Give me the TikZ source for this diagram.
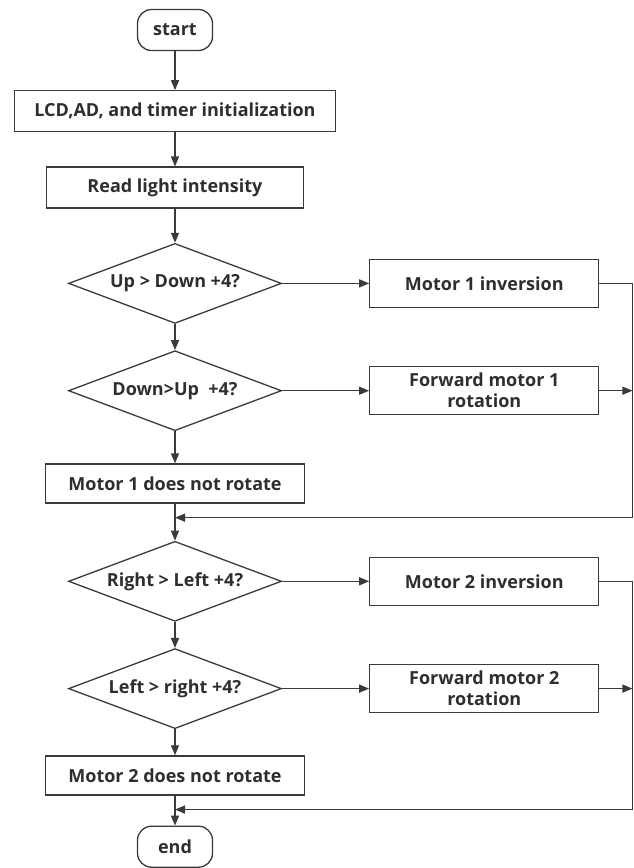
\documentclass[tikz,border=0pt]{standalone}
\usepackage{fontspec}
\setmainfont{Open Sans}
\usepackage{xcolor}
\usepackage{tikz}
\usetikzlibrary{shapes.geometric, arrows.meta}
\usetikzlibrary{positioning}
\definecolor{ink}{HTML}{3A3A3A}
\definecolor{txt}{HTML}{2E2E2E}
\tikzstyle{startstop} = [rectangle, rounded corners=14pt, minimum width=75pt, minimum height=41pt, text centered, draw=ink, line width=1.3pt]
\tikzstyle{process} = [rectangle, minimum height=41pt, text centered, align=center, draw=ink, line width=1.3pt]
\tikzstyle{decision} = [diamond, aspect=2.66, minimum width=213pt, minimum height=80pt, inner sep=0pt, text centered, draw=ink, line width=1.3pt]
\tikzstyle{arrow} = [line width=1.3pt, draw=ink, ->, >={Triangle[length=10pt, width=8pt]}]

\begin{document}
\begin{tikzpicture}[font=\fontsize{18}{21}\selectfont\bfseries, text=txt]
                                \useasboundingbox (0,0) rectangle (633pt,-868pt);
                                \node (1) [startstop] at (175pt,-30pt) {start};
                                \node (2) [process, minimum width=321pt, below=39pt of 1] {LCD,AD, and timer initialization};
                                \node (3) [process, minimum width=257pt, below=34pt of 2] {Read light intensity};
                                \node (4) [decision, below=34pt of 3] {Up > Down +4?};
                                \node (5) [process, minimum width=229pt, minimum height=48pt, right=87pt of 4] {Motor 1 inversion};
                                \node (6) [decision, below=26pt of 4] {Down>Up\ \ +4?};
                                \node (7) [process, minimum width=229pt, minimum height=48pt, right=87pt of 6] {Forward motor 1\\rotation};
                                \node (8) [process, minimum width=259pt, minimum height=39pt, below=32pt of 6] {Motor 1 does not rotate};
                                \node (9) [decision, below=37pt of 8] {Right > Left +4?};
                                \node (10) [process, minimum width=229pt, minimum height=48pt, right=87pt of 9] {Motor 2 inversion};
                                \node (11) [decision, below=26pt of 9] {Left > right +4?};
                                \node (12) [process, minimum width=229pt, minimum height=48pt, right=87pt of 11] {Forward motor 2\\rotation};
                                \node (13) [process, minimum width=259pt, minimum height=39pt, below=26pt of 11] {Motor 2 does not rotate};
                                \node (14) [startstop, below=30pt of 13] {end};
                                % right rails and merge points
                                \coordinate [right=33pt of 5] (r1);
                                \coordinate [below=14pt of 8] (m1);
                                \coordinate [right=33pt of 10] (r2);
                                \coordinate [below=14pt of 13] (m2);
                                \draw [arrow] (1) -- (2);
                                \draw [arrow] (2) -- (3);
                                \draw [arrow] (3) -- (4);
                                \draw [arrow] (4) -- (5);
                                \draw [arrow] (4) -- (6);
                                \draw [arrow] (6) -- (7);
                                \draw [arrow] (6) -- (8);
                                \draw [arrow] (8) -- (9);
                                \draw [arrow] (5) -- (r1) |- (m1);
                                \draw [arrow] (7.east) -- (7.east -| r1);
                                \draw [arrow] (9) -- (10);
                                \draw [arrow] (9) -- (11);
                                \draw [arrow] (11) -- (12);
                                \draw [arrow] (11) -- (13);
                                \draw [arrow] (13) -- (14);
                                \draw [arrow] (10) -- (r2) |- (m2);
                                \draw [arrow] (12.east) -- (12.east -| r2);
                            \end{tikzpicture}
\end{document}
